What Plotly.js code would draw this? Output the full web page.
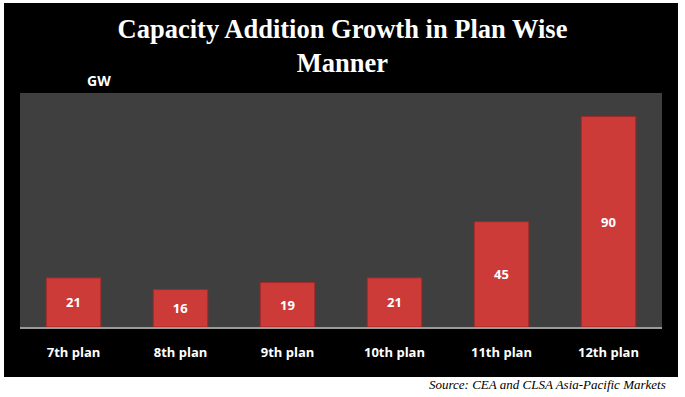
<!DOCTYPE html>
<html>
<head>
<meta charset="utf-8">
<script src="https://cdn.plot.ly/plotly-3.0.1.min.js"></script>
<style>html,body{margin:0;padding:0;background:#fff;}#chart{width:685px;height:397px;}</style>
</head>
<body>
<div id="chart"></div>
<script>
var categories = ["7th plan", "8th plan", "9th plan", "10th plan", "11th plan", "12th plan"];
var capacityGW = [21, 16, 19, 21, 45, 90];
var unitLabel = "GW";
var chartTitle = "Capacity Addition Growth in Plan Wise<br>Manner";
var sourceText = "Source: CEA and CLSA Asia-Pacific Markets";

var trace = {
  type: "bar",
  x: categories,
  y: capacityGW,
  text: capacityGW.map(String),
  textposition: "inside",
  insidetextanchor: "middle",
  textangle: 0,
  textfont: {family: "Open Sans, sans-serif", size: 13, color: "#ffffff", weight: "bold"},
  marker: {color: "#cc3b38", line: {color: "#9e2a28", width: 1}},
  hoverinfo: "none"
};

var layout = {
  width: 685, height: 397,
  margin: {l: 20, r: 23, t: 93, b: 70},
  paper_bgcolor: "#ffffff",
  plot_bgcolor: "rgba(0,0,0,0)",
  showlegend: false,
  bargap: 0.49,
  title: {
    text: chartTitle,
    font: {family: "Liberation Serif, Times New Roman, serif", size: 26.5, color: "#ffffff", weight: "bold"},
    x: 0.5, xanchor: "center", y: 0.905, yanchor: "middle", yref: "container"
  },
  xaxis: {
    type: "category",
    showgrid: false, zeroline: false,
    showline: true, linecolor: "#9a9a9a", linewidth: 2,
    ticks: "", ticklen: 0,
    ticklabelstandoff: 12,
    tickfont: {family: "Open Sans, sans-serif", size: 13, color: "#ffffff", weight: "bold"},
    automargin: false
  },
  yaxis: {
    range: [0, 100],
    showgrid: false, zeroline: false, showline: false,
    showticklabels: false, ticks: "",
    automargin: false
  },
  shapes: [
    {type: "rect", xref: "paper", yref: "paper", x0: -0.0249, x1: 1.0249, y0: -0.2137, y1: 1.3846,
     fillcolor: "#000000", line: {width: 0}, layer: "below"},
    {type: "rect", xref: "paper", yref: "paper", x0: 0, x1: 1, y0: 0, y1: 1,
     fillcolor: "#3f3f3f", line: {width: 0}, layer: "below"}
  ],
  annotations: [
    {text: unitLabel, xref: "paper", yref: "paper", x: 0.123, y: 1.055, xanchor: "center", yanchor: "middle",
     showarrow: false, font: {family: "Open Sans, sans-serif", size: 14, color: "#ffffff", weight: "bold"}},
    {text: "<i>" + sourceText + "</i>", xref: "paper", yref: "paper", x: 1.01, y: -0.245, xanchor: "right", yanchor: "middle",
     showarrow: false, font: {family: "Liberation Serif, Times New Roman, serif", size: 13, color: "#000000"}}
  ]
};

Plotly.newPlot("chart", [trace], layout, {displayModeBar: false, staticPlot: true});
</script>
</body>
</html>
